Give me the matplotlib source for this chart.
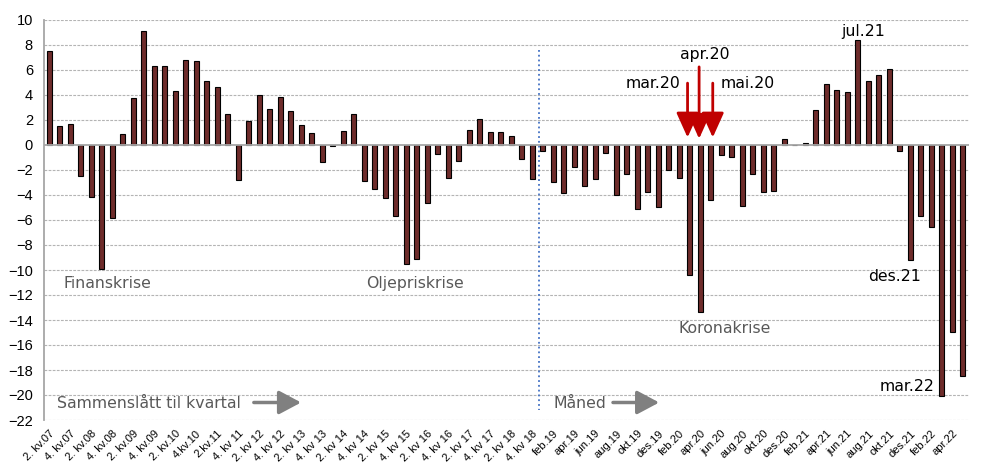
import matplotlib
matplotlib.use("Agg")
import matplotlib.pyplot as plt
import numpy as np

# kvartalstall 2. kv 07 - 4. kv 18
q_values = [7.5, 1.5, 1.7, -2.5, -4.15, -9.9, -5.85, 0.85, 3.75, 9.1,
            6.3, 6.3, 4.3, 6.8, 6.75, 5.15, 4.65, 2.5, -2.8, 1.95,
            4.0, 2.9, 3.85, 2.7, 1.6, 0.93, -1.4, -0.1, 1.15, 2.5,
            -2.9, -3.5, -4.25, -5.65, -9.5, -9.15, -4.65, -0.75, -2.65, -1.25,
            1.2, 2.05, 1.0, 1.0, 0.75, -1.15, -2.75]

# månedstall jan.19 - mai.22
months = ["jan.19", "feb.19", "mar.19", "apr.19", "mai.19", "jun.19", "jul.19", "aug.19",
          "sep.19", "okt.19", "nov.19", "des.19", "jan.20", "feb.20", "mar.20", "apr.20",
          "mai.20", "jun.20", "jul.20", "aug.20", "sep.20", "okt.20", "nov.20", "des.20",
          "jan.21", "feb.21", "mar.21", "apr.21", "mai.21", "jun.21", "jul.21", "aug.21",
          "sep.21", "okt.21", "nov.21", "des.21", "jan.22", "feb.22", "mar.22", "apr.22",
          "mai.22"]
m_values = [-0.48, -2.93, -3.87, -1.79, -3.31, -2.75, -0.67, -3.97, -2.35, -5.09,
            -3.79, -4.99, -1.97, -2.64, -10.43, -13.33, -4.43, -0.77, -0.96, -4.91,
            -2.35, -3.79, -3.68, 0.45, 0.0, 0.19, 2.83, 4.88, 4.4, 4.21,
            8.4, 5.15, 5.63, 6.11, -0.51, -9.2, -5.65, -6.59, -20.08, -14.93,
            -18.48]

q_ticks = ["2. kv.07", "4. kv.07", "2. kv.08", "4. kv.08", "2. kv.09", "4. kv.09",
           "2. kv.10", "4.kv.10", "2.kv.11", "4. kv 11", "2. kv 12", "4. kv 12",
           "2. kv 13", "4. kv 13", "2. kv 14", "4. kv 14", "2. kv 15", "4. kv 15",
           "2. kv 16", "4. kv 16", "2. kv 17", "4. kv 17", "2. kv 18", "4. kv 18"]

values = q_values + m_values
nq = len(q_values)
x = np.arange(len(values))

fig = plt.figure(figsize=(9.81, 4.73), dpi=100)
ax = fig.add_axes([44 / 981, 1 - 420 / 473, 925 / 981, 400 / 473])

ax.bar(x, values, width=0.48, color="#6E2C2B", edgecolor="black", linewidth=0.8, zorder=3)

ax.set_xlim(-0.48, 87.6)
ax.set_ylim(-22, 10)
ax.set_yticks(np.arange(-22, 11, 2))
for y in np.arange(-22, 11, 2):
    if y == 0:
        continue
    ax.axhline(y, color="#B4B4B4", lw=0.8, ls=(0, (2.5, 1.2)), zorder=1)
ax.axhline(0, color="#A6A6A6", lw=1.3, zorder=4)

for s in ["top", "right", "bottom"]:
    ax.spines[s].set_visible(False)
ax.spines["left"].set_color("#A6A6A6")
ax.spines["left"].set_linewidth(1.3)

tick_pos = list(range(0, nq, 2)) + [nq + i for i in range(1, len(months), 2)]
tick_lab = q_ticks + months[1::2]
ax.set_xticks(tick_pos)
ax.set_xticklabels(tick_lab, rotation=45, ha="right", rotation_mode="anchor",
                   fontsize=8, family="Liberation Sans")
ax.tick_params(axis="x", length=0, pad=6)
ax.tick_params(axis="y", length=0, pad=8, labelsize=10.5)
for t in ax.get_yticklabels():
    t.set_family("Liberation Sans")

# skillelinje kvartal/måned
ax.plot([46.65, 46.65], [7.6, -21.2], color="#4472C4", lw=1.3, ls=":", zorder=2)

grey = "#595959"
fs = 11.3
ax.text(1.4, -11.1, "Finanskrise", color=grey, fontsize=fs, va="center")
ax.text(30.2, -11.1, "Oljepriskrise", color=grey, fontsize=fs, va="center")
ax.text(59.9, -14.7, "Koronakrise", color=grey, fontsize=fs, va="center")
ax.text(0.75, -20.7, "Sammenslått til kvartal", color=grey, fontsize=fs, va="center")
ax.text(48.0, -20.7, "Måned", color=grey, fontsize=fs, va="center")

arrow_grey = dict(arrowstyle="-|>,head_length=0.75,head_width=0.4", color="#808080",
                  lw=2.5, mutation_scale=18, shrinkA=0, shrinkB=0)
ax.annotate("", xy=(24.0, -20.6), xytext=(19.5, -20.6), arrowprops=arrow_grey)
ax.annotate("", xy=(58.1, -20.6), xytext=(53.7, -20.6), arrowprops=arrow_grey)

# merkede måneder
def idx(name):
    return nq + months.index(name)

arrow_red = dict(arrowstyle="-|>,head_length=0.8,head_width=0.36", color="#C00000",
                 lw=2.0, mutation_scale=19, shrinkA=0, shrinkB=0)
ax.annotate("", xy=(idx("mar.20") - 0.2, 0.6), xytext=(idx("mar.20") - 0.2, 4.95), arrowprops=arrow_red)
ax.annotate("", xy=(idx("apr.20") - 0.1, 0.5), xytext=(idx("apr.20") - 0.1, 6.25), arrowprops=arrow_red)
ax.annotate("", xy=(idx("mai.20") + 0.2, 0.6), xytext=(idx("mai.20") + 0.2, 4.95), arrowprops=arrow_red)

ax.text(idx("mar.20") - 0.85, 4.9, "mar.20", fontsize=fs, ha="right", va="center")
ax.text(idx("apr.20") + 0.45, 7.2, "apr.20", fontsize=fs, ha="center", va="center")
ax.text(idx("mai.20") + 0.95, 4.9, "mai.20", fontsize=fs, ha="left", va="center")
ax.text(idx("jul.21") + 0.55, 9.1, "jul.21", fontsize=fs, ha="center", va="center")
ax.text(idx("des.21") + 1.05, -10.55, "des.21", fontsize=fs, ha="right", va="center")
ax.text(idx("mar.22") - 0.7, -19.3, "mar.22", fontsize=fs, ha="right", va="center")

fig.savefig("out.png", dpi=100)
